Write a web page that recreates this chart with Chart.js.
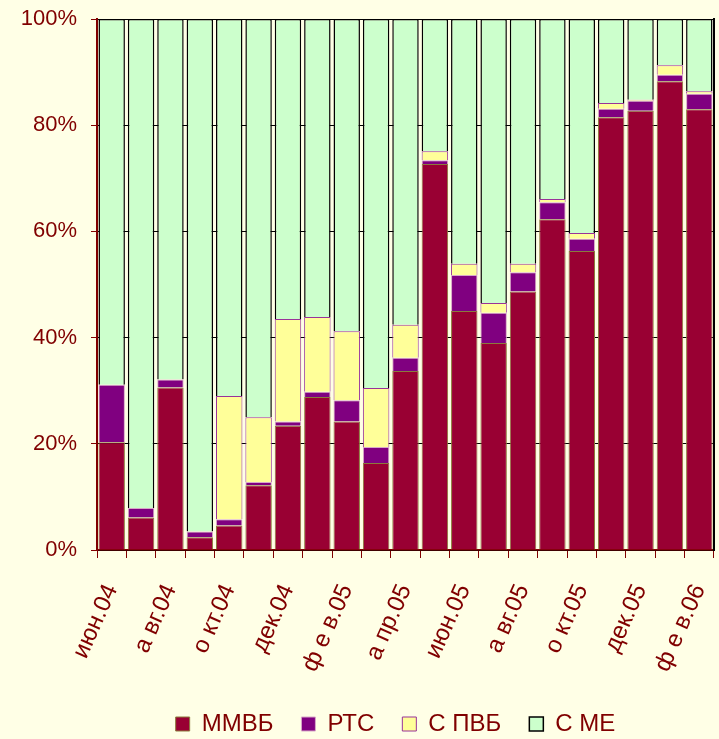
<!DOCTYPE html>
<html>
<head>
<meta charset="utf-8">
<script src="https://cdn.jsdelivr.net/npm/chart.js@4/dist/chart.umd.min.js"></script>
<style>
  html, body { margin: 0; padding: 0; background: #FFFFE6; }
  #wrap { width: 719px; height: 739px; }
</style>
</head>
<body>
<div id="wrap"><canvas id="c" width="719" height="739"></canvas></div>
<script>
const categories = ["июн.04","июл.04","а вг.04","сен.04","о кт.04","ноя.04","дек.04","янв.05","ф е в.05","мар.05","а пр.05","май.05","июн.05","июл.05","а вг.05","сен.05","о кт.05","ноя.05","дек.05","янв.06","ф е в.06"];
const seriesNames = ["ММВБ", "РТС", "С ПВБ", "С МЕ"];
const mmvb = [20.3, 6.1, 30.6, 2.4, 4.6, 12.2, 23.4, 28.8, 24.2, 16.4, 33.7, 72.7, 45.0, 39.0, 48.7, 62.3, 56.3, 81.5, 82.7, 88.3, 83.0];
const rts  = [10.8, 1.8, 1.5, 1.1, 1.2, 0.6, 0.8, 1.0, 4.0, 3.0, 2.5, 0.7, 6.8, 5.7, 3.6, 3.2, 2.3, 1.6, 1.9, 1.2, 2.9];
const spvb = [0, 0, 0, 0, 23.2, 12.2, 19.3, 14.1, 13.0, 11.1, 6.2, 1.7, 2.1, 1.8, 1.6, 0.6, 1.1, 1.1, 0.2, 1.8, 0.5];
const cme  = [68.9, 92.1, 67.9, 96.5, 71.0, 75.0, 56.5, 56.1, 58.8, 69.5, 57.6, 24.9, 46.1, 53.5, 46.1, 33.9, 40.3, 15.8, 15.2, 8.7, 13.6];
const yTicks = [0, 20, 40, 60, 80, 100];

const textColor = '#800000';
const fontFamily = "'Liberation Sans', Arial, sans-serif";

const shiftLegend = {
  id: 'shiftLegend',
  afterLayout(chart) {
    const lg = chart.legend;
    lg.top += 7; lg.bottom += 7;
    lg.left += 36; lg.right += 36;
  }
};

function noPad(scale) {
  scale.paddingLeft = 0; scale.paddingRight = 0;
  scale.paddingTop = 0; scale.paddingBottom = 0;
}

new Chart(document.getElementById('c'), {
  type: 'bar',
  data: {
    labels: categories,
    datasets: [
      { label: seriesNames[0], data: mmvb, backgroundColor: '#990033', borderColor: '#8C7A3C', borderWidth: 1 },
      { label: seriesNames[1], data: rts, backgroundColor: '#800080', borderColor: '#D8A8C8', borderWidth: 1 },
      { label: seriesNames[2], data: spvb, backgroundColor: '#FFFF99', borderColor: '#993399', borderWidth: 1 },
      { label: seriesNames[3], data: cme, backgroundColor: '#CCFFCC', borderColor: '#000000', borderWidth: 1.5 }
    ]
  },
  options: {
    responsive: false,
    animation: false,
    devicePixelRatio: 1,
    datasets: { bar: { barPercentage: 0.9, categoryPercentage: 1.0, borderSkipped: 'start' } },
    layout: { padding: { top: 19, right: 0, bottom: 0, left: 0 } },
    plugins: {
      title: { display: false },
      tooltip: { enabled: false },
      legend: {
        position: 'bottom',
        labels: {
          color: textColor,
          font: { family: fontFamily, size: 24 },
          boxWidth: 14,
          boxHeight: 14,
          padding: 28
        }
      }
    },
    scales: {
      x: {
        stacked: true,
        afterFit(scale) { scale.height = 127; noPad(scale); },
        grid: { display: true, drawOnChartArea: false, drawTicks: true, tickLength: 8, color: textColor, offset: true },
        border: { display: true, color: textColor, width: 1.5 },
        ticks: {
          autoSkip: false,
          maxRotation: 66,
          minRotation: 66,
          padding: 22,
          color: textColor,
          font: { family: fontFamily, size: 24 },
          callback(value, index) { return index % 2 === 0 ? categories[index] : ''; }
        }
      },
      y: {
        stacked: true,
        min: 0,
        max: 100,
        afterFit(scale) { scale.width = 97; noPad(scale); },
        afterBuildTicks(scale) { scale.ticks = yTicks.map(v => ({ value: v })); },
        grid: { color: '#000000', lineWidth: 1, tickColor: textColor, tickLength: 6 },
        border: { display: true, color: textColor, width: 2 },
        ticks: {
          padding: 14,
          color: textColor,
          font: { family: fontFamily, size: 22 },
          callback(v) { return v + '%'; }
        }
      },
      y2: {
        position: 'right',
        min: 0,
        max: 100,
        afterFit(scale) { scale.width = 5; noPad(scale); },
        grid: { display: false, drawOnChartArea: false, drawTicks: false },
        border: { display: true, color: '#000000', width: 2 },
        ticks: { display: false }
      }
    }
  },
  plugins: [shiftLegend]
});
</script>
</body>
</html>
